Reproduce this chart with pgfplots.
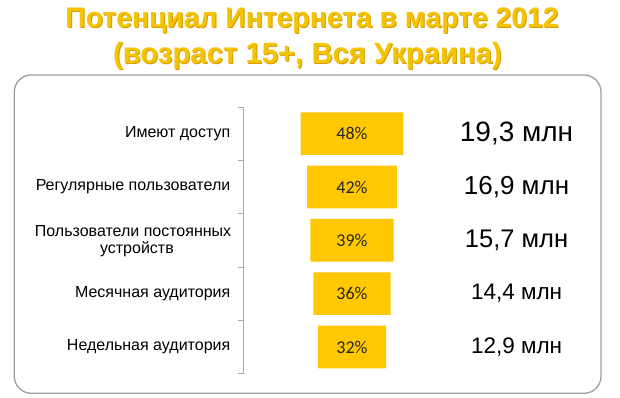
\documentclass[border=0pt]{standalone}
\usepackage{fontspec}
\setmainfont{Liberation Sans}
\newfontfamily\carlito{Carlito}
\usepackage{pgfplots}
\pgfplotsset{compat=1.18}
\definecolor{bargold}{RGB}{255,200,0}
\definecolor{titlegold}{RGB}{245,196,0}
\definecolor{titleshadow}{RGB}{215,155,0}
\definecolor{boxgray}{RGB}{160,160,160}
\definecolor{axgray}{RGB}{170,170,170}
\begin{document}
\begin{tikzpicture}[x=1pt,y=1pt]
\useasboundingbox (0,0) rectangle (620,398);
\draw[boxgray, line width=1.3pt, rounded corners=17pt] (14.3,4.7) rectangle (601,323);
\node[anchor=base, font=\fontsize{28.3}{32}\selectfont\bfseries, text=titleshadow] at (313,369) {Потенциал Интернета в марте 2012};
\node[anchor=base, font=\fontsize{28.3}{32}\selectfont\bfseries, text=titlegold] at (312,370) {Потенциал Интернета в марте 2012};
\node[anchor=base, font=\fontsize{29.3}{32}\selectfont\bfseries, text=titleshadow] at (308.5,333.7) {(возраст 15+, Вся Украина)};
\node[anchor=base, font=\fontsize{29.3}{32}\selectfont\bfseries, text=titlegold] at (307.5,334.7) {(возраст 15+, Вся Украина)};
\begin{axis}[
  at={(243.5pt,24.4pt)}, anchor=south west, scale only axis,
  width=215.5pt, height=266.6pt,
  xmin=-0.7, xmax=100, ymin=-0.5, ymax=4.5, y dir=reverse,
  xbar stacked, bar width=0.8,
  axis y line*=left, axis x line=none,
  y axis line style={draw=axgray, line width=0.8pt, -},
  ytick={-0.5,0.5,1.5,2.5,3.5,4.5},
  yticklabel=\empty,
  major tick length=6pt, tick align=outside,
  tick style={draw=axgray, line width=0.8pt},
]
\addplot[draw=none, fill=none] coordinates {(26,0) (29,1) (30.5,2) (32,3) (34,4)};
\addplot[fill=bargold, draw=none] coordinates {(48,0) (42,1) (39,2) (36,3) (32,4)};
\end{axis}
\begin{axis}[
  at={(243.5pt,24.4pt)}, anchor=south west, scale only axis,
  width=356.5pt, height=266.6pt,
  xmin=-0.7, xmax=165.9, ymin=-0.5, ymax=4.5, y dir=reverse,
  hide axis, clip=false,
]
\addplot[only marks, mark=none, nodes near coords, point meta=explicit symbolic,
  every node near coord/.style={anchor=east, inner sep=0pt, font=\fontsize{16}{19}\selectfont, text=black}]
  coordinates {(-6.78,0) [Имеют доступ] (-6.78,1) [Регулярные пользователи]
               (-6.78,3) [Месячная аудитория] (-6.78,4) [Недельная аудитория]};
\addplot[only marks, mark=none, nodes near coords, point meta=explicit symbolic,
  every node near coord/.style={anchor=center, inner sep=0pt, font=\fontsize{16}{19}\selectfont, text=black}]
  coordinates {(-52.3,1.83) [Пользователи постоянных] (-50.5,2.17) [устройств]};
\addplot[only marks, mark=none, nodes near coords, point meta=explicit symbolic,
  every node near coord/.style={anchor=center, font=\carlito\fontsize{18}{19}\selectfont, text=black!85}]
  coordinates {(50,0) [48\%] (50,1) [42\%] (50,2) [39\%] (50,3) [36\%] (50,4) [32\%]};
\addplot[only marks, mark=none, nodes near coords, point meta=explicit symbolic,
  every node near coord/.style={anchor=center, text=black}]
  coordinates {(126.9,0) [{\fontsize{28}{30}\selectfont 19,3 млн}]
               (126.9,1) [{\fontsize{26}{28}\selectfont 16,9 млн}]
               (126.9,2) [{\fontsize{25.5}{28}\selectfont 15,7 млн}]
               (126.9,3) [{\fontsize{22.5}{25}\selectfont 14,4 млн}]
               (126.9,4) [{\fontsize{22.5}{25}\selectfont 12,9 млн}]};
\end{axis}
\end{tikzpicture}
\end{document}
